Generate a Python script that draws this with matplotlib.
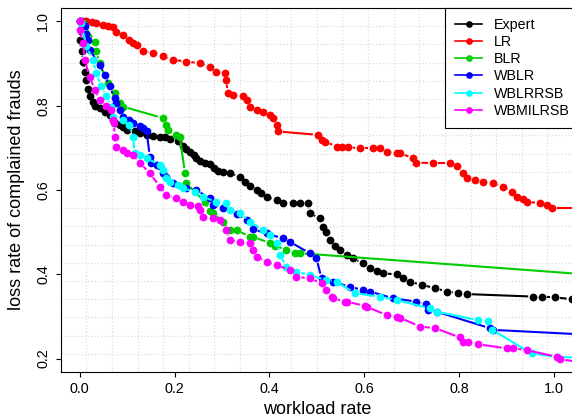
import numpy as np
import matplotlib
matplotlib.use("Agg")
import matplotlib.pyplot as plt
from matplotlib.collections import LineCollection
from matplotlib.lines import Line2D

plt.rcParams['font.family'] = ['Liberation Sans', 'DejaVu Sans']

#%% data (workload rate, loss rate)
expert_x = [0.0, 0.0, 0.004, 0.007, 0.0105, 0.014, 0.018, 0.021, 0.028, 0.032, 0.042,
            0.053, 0.063, 0.070, 0.074, 0.084, 0.091, 0.099, 0.116, 0.127, 0.141, 0.155,
            0.169, 0.180, 0.190, 0.207, 0.217, 0.225, 0.232, 0.240, 0.246, 0.253, 0.264,
            0.274, 0.284, 0.291, 0.302, 0.316, 0.338, 0.348, 0.359, 0.373, 0.383, 0.394,
            0.415, 0.428, 0.449, 0.464, 0.481, 0.485, 0.506, 0.513, 0.520, 0.527, 0.538,
            0.549, 0.563, 0.576, 0.597, 0.612, 0.626, 0.639, 0.668, 0.681, 0.696, 0.721,
            0.749, 0.774, 0.797, 0.816, 0.956, 0.974, 1.002, 1.037, 1.10]
expert_y = [1.0, 0.957, 0.930, 0.905, 0.880, 0.860, 0.840, 0.822, 0.808, 0.800, 0.795,
            0.786, 0.778, 0.767, 0.759, 0.754, 0.750, 0.743, 0.739, 0.735, 0.730, 0.729,
            0.727, 0.725, 0.722, 0.717, 0.705, 0.698, 0.690, 0.682, 0.675, 0.670, 0.665,
            0.662, 0.652, 0.644, 0.642, 0.640, 0.632, 0.620, 0.610, 0.600, 0.592, 0.584,
            0.576, 0.569, 0.569, 0.569, 0.569, 0.545, 0.533, 0.513, 0.501, 0.481, 0.466,
            0.458, 0.446, 0.438, 0.426, 0.414, 0.408, 0.402, 0.400, 0.390, 0.382, 0.375,
            0.367, 0.359, 0.356, 0.353, 0.347, 0.347, 0.345, 0.341, 0.337]

lr_x = [0.0, 0.007, 0.014, 0.025, 0.035, 0.049, 0.060, 0.070, 0.077, 0.091, 0.105,
        0.112, 0.120, 0.133, 0.155, 0.175, 0.196, 0.225, 0.253, 0.274, 0.288, 0.306,
        0.309, 0.312, 0.323, 0.344, 0.352, 0.359, 0.373, 0.386, 0.401, 0.407, 0.415,
        0.418, 0.502, 0.510, 0.517, 0.542, 0.552, 0.565, 0.591, 0.618, 0.633, 0.647,
        0.668, 0.675, 0.703, 0.710, 0.745, 0.781, 0.795, 0.808, 0.816, 0.833, 0.850,
        0.871, 0.892, 0.911, 0.921, 0.935, 0.942, 0.970, 0.985, 0.995, 1.10]
lr_y = [1.0, 1.0, 1.0, 0.998, 0.996, 0.992, 0.990, 0.988, 0.976, 0.968, 0.957,
        0.950, 0.945, 0.929, 0.925, 0.917, 0.909, 0.905, 0.901, 0.893, 0.881, 0.877,
        0.862, 0.830, 0.826, 0.822, 0.814, 0.798, 0.790, 0.786, 0.778, 0.771, 0.755,
        0.739, 0.731, 0.719, 0.715, 0.703, 0.702, 0.702, 0.699, 0.699, 0.699, 0.691,
        0.687, 0.687, 0.676, 0.665, 0.664, 0.664, 0.656, 0.640, 0.628, 0.624, 0.620,
        0.616, 0.608, 0.596, 0.584, 0.578, 0.572, 0.569, 0.565, 0.557, 0.557]

blr_x = [0.0, 0.007, 0.032, 0.035, 0.042, 0.059, 0.074, 0.084, 0.091, 0.175, 0.183,
         0.186, 0.204, 0.211, 0.222, 0.225, 0.264, 0.274, 0.281, 0.302, 0.316, 0.331,
         0.359, 0.365, 0.401, 0.411, 0.436, 0.454, 0.464, 1.10]
blr_y = [1.0, 0.996, 0.952, 0.929, 0.901, 0.854, 0.830, 0.806, 0.798, 0.771, 0.755,
         0.743, 0.731, 0.727, 0.640, 0.616, 0.572, 0.549, 0.545, 0.525, 0.505, 0.505,
         0.489, 0.489, 0.474, 0.468, 0.458, 0.450, 0.450, 0.397]

wblr_x = [0.0, 0.0105, 0.014, 0.0175, 0.021, 0.042, 0.053, 0.063, 0.074, 0.077, 0.084,
          0.091, 0.105, 0.112, 0.127, 0.133, 0.141, 0.148, 0.151, 0.162, 0.169, 0.175,
          0.183, 0.196, 0.225, 0.246, 0.274, 0.281, 0.302, 0.331, 0.352, 0.365, 0.394,
          0.428, 0.443, 0.485, 0.499, 0.510, 0.534, 0.570, 0.597, 0.612, 0.660, 0.710,
          0.731, 0.734, 0.753, 0.865, 0.871, 1.10]
wblr_y = [1.0, 0.990, 0.970, 0.957, 0.933, 0.897, 0.873, 0.846, 0.818, 0.806, 0.790,
          0.774, 0.767, 0.759, 0.751, 0.747, 0.739, 0.679, 0.664, 0.660, 0.656, 0.640,
          0.632, 0.616, 0.604, 0.600, 0.580, 0.564, 0.557, 0.543, 0.529, 0.507, 0.497,
          0.485, 0.477, 0.450, 0.438, 0.390, 0.382, 0.370, 0.363, 0.359, 0.343, 0.335,
          0.329, 0.314, 0.311, 0.272, 0.268, 0.255]

wblrrsb_x = [0.0, 0.0036, 0.014, 0.028, 0.035, 0.046, 0.056, 0.067, 0.070, 0.091, 0.105,
             0.112, 0.116, 0.127, 0.141, 0.169, 0.175, 0.183, 0.190, 0.207, 0.217, 0.243,
             0.259, 0.288, 0.309, 0.316, 0.338, 0.359, 0.386, 0.401, 0.415, 0.422, 0.436,
             0.457, 0.485, 0.520, 0.542, 0.580, 0.633, 0.668, 0.738, 0.753, 0.840, 0.861,
             0.869, 0.953, 1.006, 1.10]
wblrrsb_y = [1.0, 0.996, 0.941, 0.909, 0.877, 0.846, 0.822, 0.798, 0.774, 0.767, 0.755,
             0.727, 0.687, 0.683, 0.675, 0.660, 0.648, 0.628, 0.620, 0.612, 0.604, 0.596,
             0.584, 0.572, 0.569, 0.553, 0.545, 0.525, 0.505, 0.493, 0.474, 0.446, 0.418,
             0.406, 0.398, 0.386, 0.382, 0.355, 0.347, 0.339, 0.319, 0.311, 0.291, 0.289,
             0.268, 0.212, 0.204, 0.200]

wbmilrsb_x = [0.0, 0.0, 0.007, 0.0105, 0.021, 0.032, 0.042, 0.056, 0.067, 0.070, 0.072,
              0.074, 0.077, 0.091, 0.099, 0.112, 0.127, 0.148, 0.169, 0.183, 0.204, 0.218,
              0.232, 0.250, 0.253, 0.260, 0.281, 0.295, 0.309, 0.316, 0.338, 0.359, 0.366,
              0.373, 0.394, 0.415, 0.443, 0.457, 0.485, 0.510, 0.520, 0.531, 0.534, 0.559,
              0.563, 0.601, 0.605, 0.647, 0.668, 0.675, 0.717, 0.749, 0.802, 0.808, 0.819,
              0.840, 0.900, 0.914, 0.942, 1.006, 1.013, 1.10]
wbmilrsb_y = [1.0, 0.980, 0.949, 0.909, 0.869, 0.838, 0.814, 0.800, 0.790, 0.767, 0.759,
              0.727, 0.703, 0.695, 0.687, 0.683, 0.664, 0.640, 0.608, 0.588, 0.580, 0.572,
              0.564, 0.561, 0.553, 0.537, 0.533, 0.529, 0.505, 0.481, 0.477, 0.474, 0.458,
              0.442, 0.430, 0.422, 0.410, 0.394, 0.390, 0.379, 0.363, 0.347, 0.343, 0.335,
              0.335, 0.325, 0.323, 0.303, 0.298, 0.297, 0.276, 0.272, 0.250, 0.240, 0.240,
              0.234, 0.224, 0.224, 0.220, 0.204, 0.198, 0.185]

names = ['Expert', 'LR', 'BLR', 'WBLR', 'WBLRRSB', 'WBMILRSB']
colors = ['black', '#ff0000', '#00cd00', '#0000ff', '#00ffff', '#ff00ff']
series = [(expert_x, expert_y), (lr_x, lr_y), (blr_x, blr_y),
          (wblr_x, wblr_y), (wblrrsb_x, wblrrsb_y), (wbmilrsb_x, wbmilrsb_y)]

#%% figure and axis (R style box, right side runs off the image)
fig = plt.figure(figsize=(5.72, 4.17), dpi=100)
ax = fig.add_axes([0.1061, 0.1079, 0.8957, 0.8729])
xlim = (-0.04, 1.04)
ylim = (0.168, 1.032)
ax.set_xlim(xlim)
ax.set_ylim(ylim)

# grid(20, 20) like in R
ax.set_xticks(np.linspace(xlim[0], xlim[1], 21)[1:-1], minor=True)
ax.set_yticks(np.linspace(ylim[0], ylim[1], 21)[1:-1], minor=True)
ax.grid(which='minor', color='#dcdcdc', linestyle=':', linewidth=0.9)
ax.grid(which='major', visible=False)
ax.tick_params(which='minor', length=0)
ax.set_axisbelow(True)

ax.set_xticks([0.0, 0.2, 0.4, 0.6, 0.8, 1.0])
ax.set_yticks([0.2, 0.4, 0.6, 0.8, 1.0])
ax.tick_params(which='major', length=3.5, width=0.8, labelsize=10.4, pad=4)
ax.tick_params(axis='y', labelrotation=90)
for lab in ax.get_yticklabels():
    lab.set_va('center')
for sp in ax.spines.values():
    sp.set_linewidth(0.8)

ax.set_xlabel('workload rate', fontsize=13, labelpad=3)
ax.set_ylabel('loss rate of complained frauds', fontsize=13, labelpad=8)

#%% lines with gaps around the points (type = "b")
gap = 5.0
lw = 1.5
ms = 5.6
inv = ax.transData.inverted()
for (x, y), c in zip(series, colors):
    pts = ax.transData.transform(np.column_stack([x, y]))
    segs = []
    for p, q in zip(pts[:-1], pts[1:]):
        d = np.hypot(*(q - p))
        if d > 2 * gap:
            u = (q - p) / d
            segs.append(inv.transform(np.array([p + u * gap, q - u * gap])))
    ax.add_collection(LineCollection(segs, colors=c, linewidths=lw))
    ax.plot(x, y, 'o', color=c, ms=ms, mew=0)

# legend (runs past the right edge like the original)
handles = [Line2D([], [], color=c, lw=1.2, marker='o', ms=3.8) for c in colors]
leg = ax.legend(handles, names, loc='upper right', bbox_to_anchor=(1.014, 1.0),
                borderaxespad=0, fancybox=False, framealpha=1, edgecolor='black',
                fontsize=10.3, handlelength=1.9, handletextpad=0.85, labelspacing=0.22,
                borderpad=0.7)
leg.get_frame().set_linewidth(0.8)

plt.savefig('out.png', dpi=100)
